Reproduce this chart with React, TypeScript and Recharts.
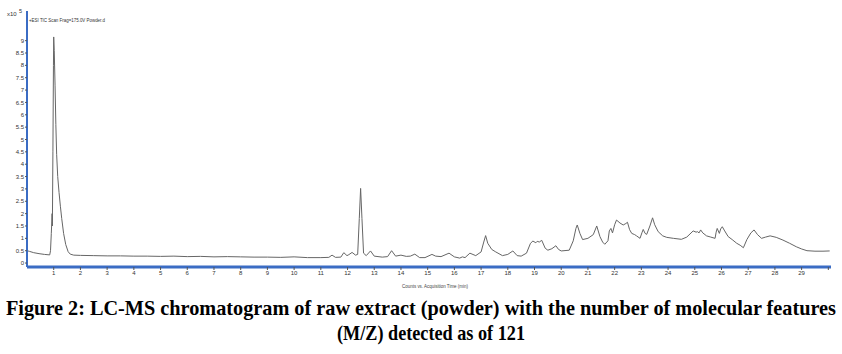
import React from 'react';
import { LineChart, Line, XAxis, YAxis } from 'recharts';

const times = [
  0.0, 0.1, 0.25, 0.45, 0.65, 0.85, 0.88, 0.91, 0.93, 0.94, 0.95, 0.97, 0.99, 1.0, 1.02, 1.05, 1.08, 1.11,
  1.15, 1.2, 1.25, 1.3, 1.37, 1.45, 1.54, 1.62, 1.75, 2.0, 2.5, 3.0, 3.5, 4.0, 4.5, 5.0, 5.5, 6.0, 6.5,
  7.0, 7.5, 8.0, 8.5, 9.0, 9.5, 10.0, 10.5, 11.0, 11.3, 11.42, 11.55, 11.75, 11.86, 11.98, 12.05, 12.17,
  12.3, 12.38, 12.44, 12.49, 12.54, 12.6, 12.7, 12.86, 13.0, 13.3, 13.5, 13.65, 13.8, 14.0, 14.2, 14.35,
  14.52, 14.7, 14.9, 15.16, 15.3, 15.5, 15.8, 16.0, 16.2, 16.3, 16.4, 16.58, 16.8, 17.0, 17.1, 17.17,
  17.25, 17.4, 17.55, 17.8, 18.0, 18.19, 18.35, 18.5, 18.7, 18.85, 18.94, 19.05, 19.1, 19.18, 19.27, 19.4,
  19.5, 19.65, 19.8, 19.9, 20.0, 20.3, 20.45, 20.55, 20.6, 20.7, 20.8, 21.0, 21.2, 21.33, 21.45, 21.55,
  21.63, 21.75, 21.8, 21.86, 21.92, 22.0, 22.07, 22.2, 22.32, 22.42, 22.48, 22.56, 22.64, 22.75, 22.82,
  22.95, 23.03, 23.07, 23.14, 23.2, 23.32, 23.42, 23.5, 23.63, 23.8, 23.95, 24.2, 24.5, 24.7, 24.94, 25.05,
  25.1, 25.16, 25.22, 25.3, 25.44, 25.6, 25.76, 25.8, 25.84, 25.92, 25.97, 26.03, 26.12, 26.25, 26.4,
  26.57, 26.7, 26.82, 26.95, 27.1, 27.22, 27.35, 27.5, 27.65, 27.82, 28.05, 28.3, 28.55, 28.8, 29.0, 29.2,
  29.5, 29.8, 30.05,
];

const intensities = [
  0.5, 0.47, 0.42, 0.38, 0.35, 0.33, 0.5, 1.2, 1.7, 2.0, 1.5, 4.5, 8.0, 9.15, 8.6, 7.2, 5.6, 4.4,
  3.5, 2.85, 2.3, 1.8, 1.2, 0.75, 0.46, 0.36, 0.32, 0.31, 0.3, 0.29, 0.29, 0.28, 0.28, 0.27, 0.28, 0.26, 0.27,
  0.25, 0.26, 0.25, 0.24, 0.24, 0.23, 0.25, 0.22, 0.22, 0.23, 0.32, 0.23, 0.24, 0.42, 0.3, 0.34, 0.43,
  0.32, 0.35, 1.8, 3.02, 1.8, 0.4, 0.3, 0.49, 0.28, 0.24, 0.26, 0.5, 0.28, 0.32, 0.27, 0.28,
  0.36, 0.22, 0.22, 0.35, 0.28, 0.26, 0.4, 0.25, 0.2, 0.25, 0.22, 0.4, 0.3, 0.45, 0.85, 1.11,
  0.8, 0.55, 0.45, 0.3, 0.35, 0.49, 0.3, 0.28, 0.4, 0.8, 0.89, 0.82, 0.88, 0.85, 0.92, 0.6,
  0.52, 0.58, 0.7, 0.55, 0.49, 0.52, 0.9, 1.4, 1.54, 1.2, 0.95, 1.0, 1.15, 1.5, 1.07, 0.85,
  0.76, 0.9, 1.3, 1.4, 1.22, 1.55, 1.74, 1.62, 1.54, 1.6, 1.65, 1.35, 1.2, 1.15, 1.1,
  1.0, 1.25, 1.36, 1.2, 1.16, 1.5, 1.83, 1.55, 1.27, 1.1, 1.04, 1.0, 0.96, 1.05, 1.3, 1.25,
  1.27, 1.22, 1.34, 1.22, 1.1, 1.05, 1.0, 1.25, 1.4, 1.2, 1.38, 1.47, 1.3, 1.07, 0.95,
  0.8, 0.72, 0.62, 0.95, 1.22, 1.34, 1.15, 1.0, 1.05, 1.1, 1.04, 0.93, 0.8, 0.66, 0.57, 0.5,
  0.48, 0.48, 0.49,
];

const xTicks = [1, 2, 3, 4, 5, 6, 7, 8, 9, 10, 11, 12, 13, 14, 15, 16, 17, 18, 19, 20, 21, 22, 23, 24, 25, 26, 27, 28, 29, 30];
const yTicks = [0, 0.5, 1, 1.5, 2, 2.5, 3, 3.5, 4, 4.5, 5, 5.5, 6, 6.5, 7, 7.5, 8, 8.5, 9];

const legendLabel = '+ESI TIC Scan Frag=175.0V Powder.d';
const xAxisLabel = 'Counts vs. Acquisition Time (min)';
const scaleLabel = 'x10';
const scaleExp = '5';
const captionLine1 = 'Figure 2: LC-MS chromatogram of raw extract (powder) with the number of molecular features';
const captionLine2 = '(M/Z) detected as of 121';

const data = times.map((t, i) => ({ t, v: intensities[i] }));

const BLUE = '#3b6cc4';
const TICK_FONT = { fontSize: 6, fill: '#333', fontFamily: 'Liberation Sans, Arial, sans-serif' };
const SX = 0.8;

export default function App() {
  return (
    <div style={{ position: 'absolute', left: 0, top: 0, width: 842, height: 354, background: '#fff', overflow: 'hidden' }}>
      <LineChart width={842} height={354} data={data} margin={{ top: 11, right: 11, bottom: 67, left: 0 }}>
        <XAxis
          dataKey="t"
          type="number"
          domain={[0, 30.1]}
          ticks={xTicks}
          interval={0}
          allowDataOverflow
          height={20}
          tickSize={3}
          tickMargin={1}
          axisLine={{ stroke: BLUE, strokeWidth: 3 }}
          tickLine={{ stroke: '#555' }}
          tick={TICK_FONT}
          tickFormatter={(v: number) => (v === 30 ? '' : String(v))}
        />
        <XAxis
          xAxisId="top"
          orientation="top"
          dataKey="t"
          type="number"
          domain={[0, 30.1]}
          height={0}
          tick={false}
          tickLine={false}
          axisLine={{ stroke: BLUE, strokeWidth: 2 }}
        />
        <YAxis
          type="number"
          domain={[-0.16, 10.2]}
          ticks={yTicks}
          interval={0}
          allowDataOverflow
          width={27}
          tickSize={2}
          tickMargin={1}
          axisLine={{ stroke: BLUE, strokeWidth: 2 }}
          tickLine={{ stroke: '#555' }}
          tick={TICK_FONT}
          tickFormatter={(v: number) => String(v)}
        />
        <YAxis
          yAxisId="right"
          orientation="right"
          type="number"
          domain={[-0.16, 10.2]}
          width={0}
          tick={false}
          tickLine={false}
          axisLine={{ stroke: BLUE, strokeWidth: 2 }}
        />
        <Line
          dataKey="v"
          type="linear"
          stroke="#666"
          strokeWidth={1}
          dot={false}
          isAnimationActive={false}
        />
      </LineChart>
      <svg width={842} height={354} style={{ position: 'absolute', left: 0, top: 0, pointerEvents: 'none' }}>
        <text x={7} y={16} fontSize={6} fill="#333" fontFamily="Liberation Sans, Arial, sans-serif">{scaleLabel}</text>
        <text x={19} y={13} fontSize={5.5} fill="#333" fontFamily="Liberation Sans, Arial, sans-serif">{scaleExp}</text>
        <text x={29} y={22} fontSize={5.5} fill="#333" fontFamily="Liberation Sans, Arial, sans-serif" textLength={76} lengthAdjust="spacingAndGlyphs">{legendLabel}</text>
        <text x={402} y={288} fontSize={5} fill="#444" fontFamily="Liberation Sans, Arial, sans-serif" textLength={66} lengthAdjust="spacingAndGlyphs">{xAxisLabel}</text>
        <g transform={`scale(${SX} 1)`}>
          <text x={6 / SX} y={315} fontSize={22} fontWeight="bold" fill="#000" fontFamily="Liberation Serif, Times New Roman, serif" textLength={830 / SX} lengthAdjust="spacingAndGlyphs">{captionLine1}</text>
          <text x={337 / SX} y={340} fontSize={22} fontWeight="bold" fill="#000" fontFamily="Liberation Serif, Times New Roman, serif" textLength={188 / SX} lengthAdjust="spacingAndGlyphs">{captionLine2}</text>
        </g>
      </svg>
    </div>
  );
}
